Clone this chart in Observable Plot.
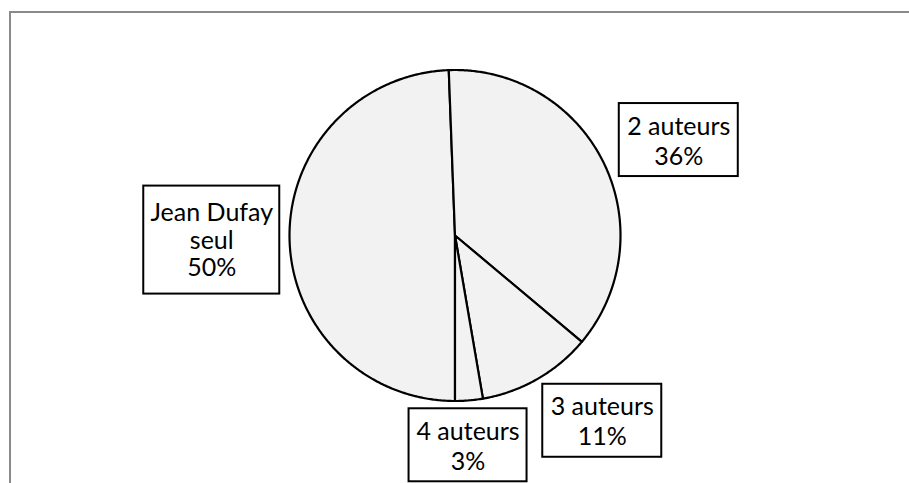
<!DOCTYPE html>
<html>
<head>
<meta charset="utf-8">
<script src="https://cdn.jsdelivr.net/npm/d3@7"></script>
<script src="https://cdn.jsdelivr.net/npm/@observablehq/plot@0.6"></script>
<style>
  html, body { margin: 0; padding: 0; background: #fff; }
  #wrap { position: relative; width: 909px; height: 483px; overflow: hidden; }
  #border { position: absolute; left: 9px; top: 11px; right: -5px; bottom: -5px;
            border-top: 2px solid #8a8a8a; border-left: 2px solid #8a8a8a; pointer-events: none; }
</style>
</head>
<body>
<div id="wrap"><div id="border"></div></div>
<script>
// Data (order as drawn, clockwise starting from 6 o'clock)
const categories = ["Jean Dufay seul", "2 auteurs", "3 auteurs", "4 auteurs"];
const shares = [49.4, 36.7, 11.2, 2.7];            // slice sizes
const labelNames = ["Jean Dufay\nseul", "2 auteurs", "3 auteurs", "4 auteurs"];
const labelPercents = ["50%", "36%", "11%", "3%"];

// Layout (style, not data)
const startAngle = Math.PI;            // first slice starts at 6 o'clock
const labelLayout = {                  // label box placement relative to slice
  "Jean Dufay seul": {r: 1.47, turn: 0,    w: 136, h: 108, lh: 1.1},
  "2 auteurs":       {r: 1.47, turn: 3,    w: 119, h: 73,  lh: 1.2},
  "3 auteurs":       {r: 1.43, turn: -8.6, w: 119, h: 73,  lh: 1.2},
  "4 auteurs":       {r: 1.27, turn: 1.3,  w: 118, h: 73,  lh: 1.2}
};
const R = 165.5;   // px per data unit

const pie = d3.pie().sort(null).value(d => d).startAngle(startAngle).endAngle(startAngle + 2 * Math.PI);
const arcs = pie(shares);

// Polygon points for each slice (data units, y up)
const slicePts = [];
arcs.forEach((a, i) => {
  const name = categories[i];
  slicePts.push({name, x: 0, y: 0});
  const n = Math.max(2, Math.ceil((a.endAngle - a.startAngle) / (Math.PI / 360)));
  for (let k = 0; k <= n; k++) {
    const t = a.startAngle + (a.endAngle - a.startAngle) * k / n;
    slicePts.push({name, x: Math.sin(t), y: Math.cos(t)});
  }
  slicePts.push({name, x: 0, y: 0});
});

// Label boxes
const labels = arcs.map((a, i) => {
  const name = categories[i];
  const L = labelLayout[name];
  const mid = (a.startAngle + a.endAngle) / 2 + L.turn * Math.PI / 180;
  const cx = L.r * Math.sin(mid), cy = L.r * Math.cos(mid);
  const hw = L.w / 2 / R, hh = L.h / 2 / R;
  return {name, cx, cy, x1: cx - hw, x2: cx + hw, y1: cy - hh, y2: cy + hh, lh: L.lh,
          text: labelNames[i] + "\n" + labelPercents[i]};
});

const cx0 = 454.5, cy0 = 235;
const textOpts = {x: "cx", y: "cy", text: "text", fill: "#000", fontSize: 25,
                  textAnchor: "middle", lineAnchor: "middle"};
const chart = Plot.plot({
  width: 909,
  height: 483,
  x: {domain: [-1, 1], range: [cx0 - R, cx0 + R], axis: null},
  y: {domain: [-1, 1], range: [cy0 + R, cy0 - R], axis: null},
  style: {background: "transparent", fontFamily: "Lato, 'Open Sans', sans-serif"},
  marks: [
    Plot.line(slicePts, {x: "x", y: "y", z: "name", fill: "#f2f2f2", stroke: "#000",
                         strokeWidth: 2.2, strokeLinejoin: "round", curve: "linear-closed"}),
    Plot.rect(labels, {x1: "x1", x2: "x2", y1: "y1", y2: "y2", fill: "#fff", stroke: "#000", strokeWidth: 2}),
    Plot.text(labels.filter(d => d.lh === 1.1), {...textOpts, lineHeight: 1.1}),
    Plot.text(labels.filter(d => d.lh === 1.2), {...textOpts, lineHeight: 1.2})
  ]
});
chart.style.position = "absolute";
chart.style.left = "0px";
chart.style.top = "0px";
document.getElementById("wrap").prepend(chart);
</script>
</body>
</html>
